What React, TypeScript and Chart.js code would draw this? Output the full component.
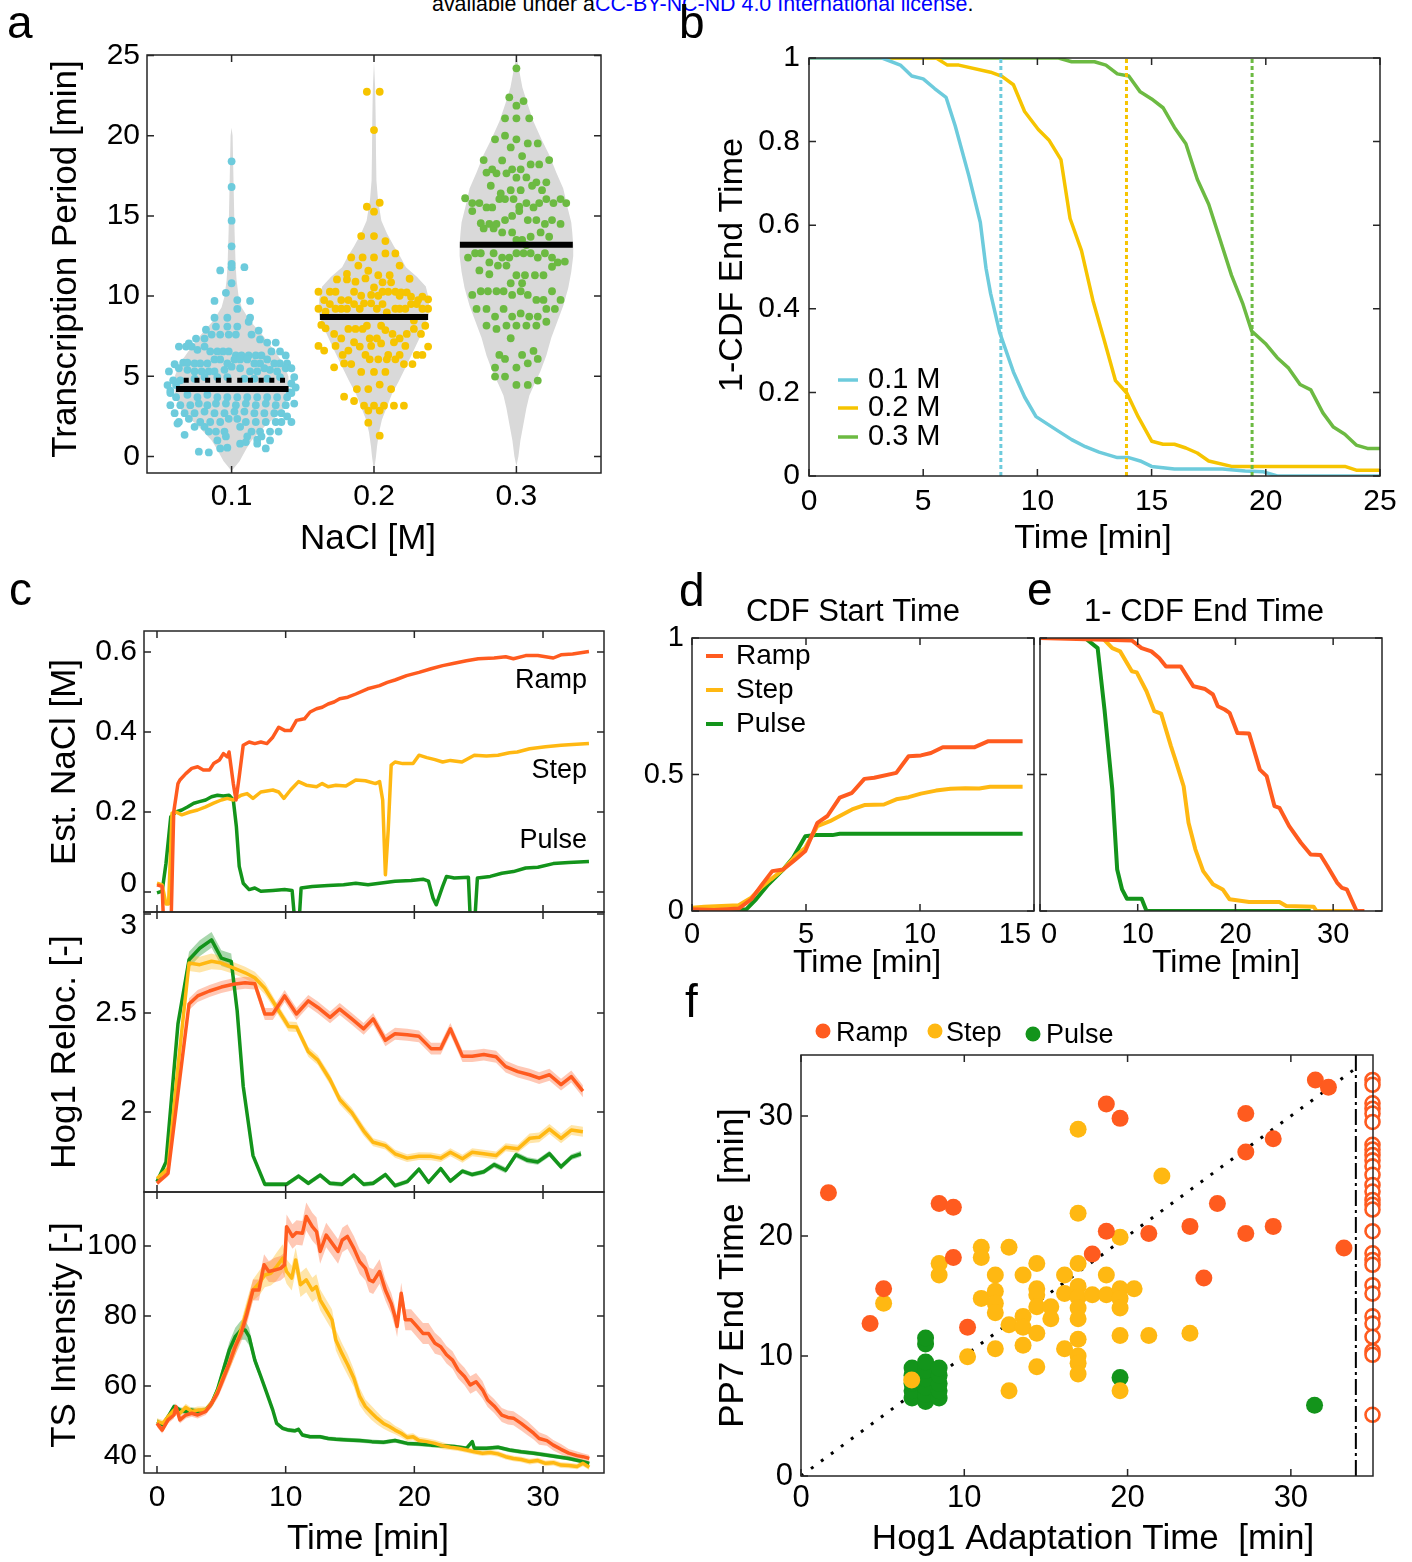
import React, { useEffect, useRef } from 'react';
import { Chart, registerables } from 'chart.js';
Chart.register(...registerables);

const FONT = '"Liberation Sans", Arial, Helvetica, sans-serif';
const fnt = (px: number) => `${px}px ${FONT}`;

const RAMP = '#ff5b1f';
const STEP = '#ffb812';
const PULSE = '#13941b';
const CYAN = '#6dcbdc';
const GOLD = '#f6c400';
const LEAF = '#6cba42';
const VIOLIN = '#d9d9d9';

// ---------------- panel a ----------------
const naclCats = [0.1, 0.2, 0.3];
const naclTickLabels = ['0.1', '0.2', '0.3'];
const periodTicks = [0, 5, 10, 15, 20, 25];
const periodTickLabels = ['0', '5', '10', '15', '20', '25'];
const periodMedians = [4.2, 8.7, 13.2];
const period01Mean = 4.75;
// violin outlines: [period, half width in M]
const violin01 = [[-0.9, 0], [-0.3, 0.0056], [0.5, 0.0105], [1, 0.014], [2, 0.0245], [2.5, 0.0315], [3, 0.0364], [4, 0.0399], [5, 0.0399], [5.8, 0.0364], [6.5, 0.0308], [7.5, 0.0224], [8.5, 0.0126], [9.3, 0.007], [10, 0.0049], [11, 0.0035], [12, 0.0028], [14, 0.0021], [17, 0.0014], [20, 0.0007], [20.5, 0]];
const violin02 = [[-0.9, 0], [0, 0.0014], [0.6, 0.0021], [1.5, 0.0035], [2.3, 0.0056], [3.1, 0.0091], [3.9, 0.0126], [4.7, 0.0175], [5.6, 0.0224], [6.5, 0.0273], [7.3, 0.0315], [8.1, 0.0357], [8.9, 0.0385], [9.8, 0.0385], [10.6, 0.0364], [11.2, 0.0301], [11.8, 0.0224], [12.5, 0.0182], [13.1, 0.014], [13.9, 0.0091], [14.7, 0.0052], [16, 0.0028], [17.2, 0.0017], [19, 0.0014], [21, 0.0012], [23, 0.0008], [24.6, 0]];
const violin03 = [[-0.6, 0], [0, 0.0014], [1, 0.0028], [2, 0.0049], [3, 0.007], [3.8, 0.0091], [4.5, 0.0126], [5.3, 0.0168], [6.3, 0.021], [7.4, 0.0245], [8.4, 0.0287], [9.4, 0.0329], [10.5, 0.0364], [11.5, 0.0385], [12.5, 0.0399], [13.2, 0.0399], [14, 0.0392], [14.6, 0.0385], [15.6, 0.0357], [16.7, 0.0329], [17.7, 0.028], [18.8, 0.0231], [19.8, 0.0175], [20.9, 0.0119], [22, 0.0077], [23, 0.0042], [24, 0.0021], [25, 0]];
// dots: [offset from category (M), period (min)]
const dots01 = [[0, 18.4], [0, 16.8], [0, 14.7], [0, 13.1], [0, 12.0], [0, 11.8], [0.009, 11.8], [-0.008, 11.6], [0, 10.8], [-0.004, 10.2], [-0.012, 9.7], [0.004, 9.75], [0.013, 9.7], [0.004, 9.2], [-0.012, 8.65], [-0.003, 8.65], [0.013, 8.65], [0.012, 8.4], [-0.018, 7.9], [-0.011, 8.1], [-0.003, 8.1], [0.004, 8.1], [0.019, 7.85], [-0.014, 7.6], [-0.008, 7.6], [-0.002, 7.6], [0.003, 7.6], [0.014, 7.6], [-0.025, 7.35], [-0.019, 7.35], [0.02, 7.3],
  [-0.037, 6.85], [-0.032, 6.85], [-0.03, 7.05], [-0.028, 6.85], [-0.024, 6.65], [-0.019, 6.85], [-0.015, 6.55], [-0.01, 6.55], [-0.006, 6.55], [-0.002, 6.55], [0.003, 6.3], [0.007, 6.3], [0.012, 6.3], [0.017, 6.3], [0.021, 6.3], [0.025, 7.1], [0.031, 7.1], [0.028, 6.55], [0.034, 6.55], [0.038, 6.3],
  [-0.04, 5.75], [-0.034, 5.85], [-0.031, 5.85], [-0.026, 5.8], [-0.022, 5.8], [-0.017, 5.8], [-0.012, 6.05], [-0.008, 6.05], [-0.003, 5.8], [0.002, 6.05], [0.006, 6.05], [0.011, 6.05], [0.016, 5.8], [0.02, 5.8], [0.025, 6.05], [0.03, 5.8], [0.034, 5.8], [0.039, 5.8],
  [-0.044, 5.3], [-0.037, 5.5], [-0.031, 5.4], [-0.026, 5.3], [-0.021, 5.3], [-0.016, 5.3], [-0.012, 5.3], [-0.005, 5.4], [0, 5.6], [0.006, 5.5], [0.013, 5.3], [0.018, 5.3], [0.023, 5.5], [0.027, 5.4], [0.032, 5.3], [0.038, 5.5], [0.042, 5.5],
  [-0.041, 4.75], [-0.036, 4.75], [-0.026, 4.85], [-0.019, 4.95], [-0.01, 4.95], [-0.003, 4.95], [0.009, 4.85], [0.016, 4.85], [0.025, 4.85], [0.034, 4.95], [0.044, 4.95],
  [-0.045, 4.45], [-0.039, 4.45], [0.042, 4.55], [0.045, 4.3], [-0.043, 4.1], [0.041, 4.0],
  [-0.043, 3.95], [-0.039, 3.7], [-0.031, 3.85], [-0.024, 3.7], [-0.017, 3.85], [-0.01, 3.7], [-0.003, 3.7], [0.004, 3.7], [0.011, 3.7], [0.018, 3.7], [0.025, 3.7], [0.032, 3.7], [0.039, 3.7], [0.042, 3.95],
  [-0.043, 3.2], [-0.036, 3.2], [-0.029, 3.2], [-0.023, 3.3], [-0.017, 3.2], [-0.011, 3.3], [-0.004, 3.3], [0.003, 3.2], [0.01, 3.3], [0.017, 3.2], [0.024, 3.3], [0.031, 3.2], [0.038, 3.2], [0.044, 3.3],
  [-0.04, 2.7], [-0.033, 2.7], [-0.026, 2.7], [-0.019, 2.8], [-0.012, 2.7], [-0.005, 2.7], [0.002, 2.8], [0.009, 2.8], [0.016, 2.7], [0.023, 2.7], [0.03, 2.7], [0.035, 2.7], [0.039, 2.5],
  [-0.037, 2.15], [-0.03, 2.35], [-0.022, 2.15], [-0.015, 2.15], [-0.008, 2.15], [-0.002, 2.35], [0.004, 2.35], [0.01, 2.15], [0.017, 2.15], [0.024, 2.15], [0.031, 2.15], [0.035, 2.15], [0.042, 2.15],
  [-0.038, 2.05], [-0.026, 1.85], [-0.019, 1.85], [-0.011, 1.55], [-0.005, 1.55], [0.006, 1.85], [0.014, 1.55], [0.02, 1.55], [0.027, 1.55], [0.033, 1.55],
  [-0.033, 1.35], [-0.016, 1.55], [-0.004, 1.25], [0.011, 1.25], [0.018, 1.05], [0.021, 1.25], [0.027, 1.0], [-0.01, 1.0], [0.006, 0.8], [-0.003, 0.55], [-0.023, 0.3], [-0.016, 0.25], [-0.008, 0.5], [0.018, 0.8], [0.024, 0.5], [0.01, 0.9]];
const dots02 = [[-0.005, 22.74], [0.004, 22.74], [0, 20.35], [-0.005, 15.57], [0.004, 15.82], [0, 15.26], [-0.009, 13.74], [0, 13.74], [0.008, 13.43], [-0.016, 12.41], [-0.008, 12.41], [0, 12.41], [0.008, 12.66], [0.015, 12.66], [-0.011, 11.9], [0.018, 11.9], [-0.004, 11.58], [-0.019, 11.38], [-0.026, 11.04], [-0.019, 11.04], [-0.013, 10.9], [-0.006, 11.1], [0.003, 11.3], [0.011, 11.3], [0.006, 10.86], [0.012, 10.86], [0.025, 11.08], [0, 10.54],
  [-0.039, 10.27], [-0.031, 10.27], [-0.027, 10.27], [-0.014, 10.27], [-0.009, 10.02], [-0.002, 10.07], [0.003, 10.02], [0.006, 10.27], [0.01, 10.27], [0.015, 10.27], [0.019, 10.23], [0.023, 10.23], [0.026, 9.96], [0.034, 9.96],
  [-0.035, 9.75], [-0.023, 9.75], [-0.018, 9.75], [-0.007, 9.55], [-0.002, 9.55], [0.006, 9.5], [0.026, 9.5], [0.031, 9.75], [0.038, 9.8], [-0.031, 9.5], [-0.014, 9.5], [0.018, 10.02],
  [-0.039, 9.21], [-0.034, 9.03], [-0.027, 9.21], [-0.023, 9.21], [-0.019, 9.21], [-0.01, 9.21], [0.002, 9.21], [0.009, 8.99], [0.015, 9.21], [0.018, 9.21], [0.022, 9.21], [0.034, 9.21], [0.038, 9.21], [0.03, 9.5],
  [-0.037, 8.2], [-0.034, 7.99], [-0.018, 7.95], [-0.013, 7.95], [-0.008, 7.95], [-0.005, 8.15], [0.005, 8.15], [0.008, 7.88], [0.013, 7.64], [0.018, 7.36], [0.023, 7.64], [0.028, 7.95], [0.036, 8.15], [0.028, 8.47],
  [-0.028, 7.64], [-0.023, 7.36], [-0.003, 7.36], [0.002, 7.36], [0.005, 7.05], [-0.014, 7.12], [-0.01, 6.85], [-0.002, 6.89], [0.014, 7.12], [0.022, 6.89], [0.033, 7.64],
  [-0.039, 6.89], [-0.035, 6.6], [-0.027, 6.89], [-0.018, 6.6], [-0.022, 6.33], [-0.006, 6.33], [-0.003, 6.06], [0.003, 6.06], [0.01, 6.33], [0.009, 6.06], [0.018, 6.33], [0.03, 6.33], [0.034, 6.33], [0.038, 6.85],
  [-0.021, 5.8], [-0.016, 5.76], [0.015, 6.06], [0.021, 5.76], [0.027, 5.76], [-0.028, 5.56],
  [-0.009, 5.27], [0, 5.27], [0.008, 5.27], [0.004, 4.48], [-0.012, 4.2], [-0.004, 4.2], [0.012, 4.2],
  [-0.021, 3.73], [-0.014, 3.46], [-0.007, 3.17], [0, 3.17], [0.007, 3.17], [0.014, 3.17], [0.021, 3.17], [-0.004, 2.86], [0.004, 2.86], [-0.004, 2.11], [0.004, 1.3]];
const dots03 = [[0, 24.2], [-0.005, 22.39], [0.005, 22.16], [0, 21.87], [-0.008, 21.08], [0, 21.08], [0.009, 21.08],
  [-0.015, 19.77], [-0.008, 20.0], [0, 19.77], [-0.004, 19.27], [0.008, 19.52], [0.015, 19.52],
  [-0.023, 18.48], [-0.01, 18.46], [0.004, 18.73], [0.023, 18.48], [0.01, 18.21], [0.016, 18.21],
  [-0.021, 17.7], [-0.017, 17.9], [-0.014, 17.65], [-0.007, 17.65], [-0.003, 17.9], [0.003, 17.9], [0, 17.38], [0.007, 17.4], [0.014, 17.09], [0.011, 16.88], [0.021, 17.09],
  [-0.018, 16.88], [-0.011, 16.4], [-0.004, 16.6], [0.003, 16.6], [0.018, 16.6],
  [-0.036, 16.1], [-0.031, 15.8], [-0.026, 15.8], [-0.012, 16.05], [-0.008, 16.05], [-0.002, 16.05], [0.007, 15.8], [0.016, 15.8], [0.021, 16.05], [0.026, 15.8], [0.031, 16.05], [0.035, 15.8],
  [-0.031, 15.3], [-0.021, 15.53], [-0.017, 15.53], [0.002, 15.57], [0.002, 15.3], [0.012, 15.53], [-0.003, 15.0],
  [-0.025, 14.54], [-0.023, 14.22], [-0.019, 14.5], [-0.016, 14.22], [-0.014, 14.5], [-0.008, 14.74], [0.008, 14.74], [0.014, 14.74], [0.02, 14.5], [0.025, 14.74], [0.031, 14.5],
  [-0.01, 13.97], [-0.003, 13.97], [0.004, 13.5], [0.01, 13.7], [0.017, 13.97], [0.023, 13.7], [0.007, 13.18], [0, 13.5],
  [-0.034, 12.4], [-0.029, 12.67], [-0.025, 12.67], [-0.016, 12.67], [-0.01, 12.4], [-0.005, 12.4], [0, 12.67], [0.005, 12.67], [0.01, 12.67], [0.015, 12.4], [0.02, 12.67], [0.025, 12.4], [0.029, 12.1], [0.034, 12.15], [0.025, 11.83], [-0.019, 12.1], [-0.013, 11.9], [-0.007, 11.9], [-0.026, 11.6], [-0.019, 11.36],
  [0, 11.3], [0.006, 11.3], [0.013, 11.3], [0.019, 11.3], [-0.004, 10.8], [0.004, 10.8],
  [-0.031, 10.07], [-0.025, 10.3], [-0.02, 10.3], [-0.014, 10.3], [-0.009, 10.3], [-0.003, 10.07], [0.003, 10.3], [0.008, 10.07], [0.014, 9.76], [0.019, 9.76], [0.025, 10.3], [0.031, 9.76],
  [-0.028, 9.2], [-0.021, 9.2], [-0.009, 9.2], [0.003, 8.92], [0.009, 8.72], [0.015, 8.72], [0.021, 9.2], [0.027, 9.2], [-0.015, 8.72], [-0.003, 8.72],
  [-0.021, 8.16], [-0.014, 7.95], [-0.007, 8.16], [0, 8.16], [0.007, 8.16], [0.014, 8.16], [0.021, 8.4],
  [-0.004, 7.37], [-0.012, 6.33], [-0.008, 6.08], [0.004, 6.33], [0.012, 6.58], [0.008, 5.81], [0.015, 6.08],
  [-0.015, 5.54], [0, 5.54], [-0.015, 4.98], [-0.008, 4.98], [0.015, 4.73], [0, 4.46], [0.008, 4.46]];

// ---------------- panel b ----------------
const cdfTicksX = [0, 5, 10, 15, 20, 25];
const cdfTickLabelsX = ['0', '5', '10', '15', '20', '25'];
const cdfTicksY = [0, 0.2, 0.4, 0.6, 0.8, 1];
const cdfTickLabelsY = ['0', '0.2', '0.4', '0.6', '0.8', '1'];
const endCdf01 = [[0, 1], [3.2, 1], [4.0, 0.983], [4.5, 0.957], [5.0, 0.95], [5.5, 0.927], [6.0, 0.906], [6.4, 0.838], [7.0, 0.718], [7.5, 0.607], [7.75, 0.497], [7.95, 0.437], [8.35, 0.343], [8.95, 0.249], [9.44, 0.189], [9.94, 0.142], [10.9, 0.108], [11.5, 0.087], [12.1, 0.07], [12.7, 0.057], [13.5, 0.044], [14.0, 0.044], [14.5, 0.036], [15.0, 0.023], [16.0, 0.017], [18.1, 0.017], [19.1, 0.012], [19.9, 0.01], [20.5, 0], [25, 0]];
const endCdf02 = [[0, 1], [5.57, 1], [6.06, 0.983], [6.56, 0.983], [7.95, 0.966], [8.45, 0.956], [8.95, 0.936], [9.44, 0.872], [10.04, 0.829], [10.5, 0.804], [11.03, 0.757], [11.43, 0.616], [11.93, 0.539], [12.43, 0.42], [12.92, 0.326], [13.42, 0.228], [13.92, 0.198], [14.41, 0.142], [15.01, 0.083], [15.5, 0.076], [16.0, 0.076], [16.5, 0.067], [17.0, 0.055], [17.5, 0.036], [18.5, 0.023], [23.46, 0.023], [23.96, 0.014], [25, 0.014]];
const endCdf03 = [[0, 1], [10.93, 1], [11.5, 0.991], [12.5, 0.991], [13.0, 0.983], [13.5, 0.962], [14.0, 0.957], [14.5, 0.919], [15.0, 0.902], [15.5, 0.881], [16.0, 0.834], [16.5, 0.795], [17.0, 0.71], [17.5, 0.65], [18.0, 0.565], [18.5, 0.48], [19.0, 0.411], [19.38, 0.347], [19.98, 0.317], [20.5, 0.283], [21.0, 0.258], [21.5, 0.219], [21.97, 0.206], [22.5, 0.151], [22.96, 0.117], [23.46, 0.1], [23.96, 0.074], [24.45, 0.066], [25, 0.066]];
const endMedians = [8.4, 13.9, 19.4];
const concLabels = ['0.1 M', '0.2 M', '0.3 M'];

// ---------------- panel c ----------------
const timeTicksC = [0, 10, 20, 30];
const timeTickLabelsC = ['0', '10', '20', '30'];
const naclTicksY = [0, 0.2, 0.4, 0.6];
const naclTickLabelsY = ['0', '0.2', '0.4', '0.6'];
const hogTicksY = [2, 2.5, 3];
const hogTickLabelsY = ['2', '2.5', '3'];
const tsTicksY = [40, 60, 80, 100];
const tsTickLabelsY = ['40', '60', '80', '100'];
const naclRamp = [[0, 0.018], [0.4, 0.014], [0.5, -0.07], [1.1, -0.07], [1.3, 0.2], [1.63, 0.271], [1.78, 0.28], [2.24, 0.296], [2.7, 0.309], [3.16, 0.313], [3.6, 0.305], [4.08, 0.305], [4.4, 0.321], [4.85, 0.33], [5.16, 0.346], [5.47, 0.338], [5.6, 0.35], [5.93, 0.271], [6.14, 0.23], [6.39, 0.288], [6.7, 0.367], [7.16, 0.375], [7.6, 0.371], [8.07, 0.375], [8.54, 0.371], [9.0, 0.387], [9.46, 0.412], [9.92, 0.404], [10.4, 0.404], [10.84, 0.429], [11.46, 0.433], [11.9, 0.45], [12.4, 0.458], [12.84, 0.462], [13.3, 0.47], [13.76, 0.475], [14.2, 0.483], [14.83, 0.487], [15.45, 0.495], [16.37, 0.508], [17.3, 0.516], [17.9, 0.524], [18.5, 0.53], [19.4, 0.541], [20.36, 0.549], [21.3, 0.558], [22.2, 0.566], [23.1, 0.572], [24.05, 0.578], [24.97, 0.583], [26.2, 0.585], [27.1, 0.588], [27.7, 0.583], [28.65, 0.591], [29.6, 0.591], [30.8, 0.585], [31.4, 0.593], [32.3, 0.595], [33.57, 0.601]];
const naclStep = [[0, 0.022], [0.4, 0.018], [0.7, -0.03], [0.9, -0.03], [1.17, 0.197], [1.47, 0.2], [1.93, 0.193], [2.55, 0.2], [3.16, 0.205], [3.78, 0.213], [4.4, 0.222], [5.0, 0.23], [5.47, 0.234], [5.93, 0.23], [6.54, 0.242], [7.0, 0.246], [7.46, 0.234], [8.07, 0.25], [9.0, 0.255], [9.46, 0.25], [9.86, 0.234], [10.38, 0.255], [11.0, 0.276], [11.6, 0.267], [12.4, 0.263], [12.84, 0.271], [13.3, 0.263], [13.9, 0.267], [14.68, 0.265], [15.45, 0.28], [16.2, 0.278], [16.98, 0.271], [17.3, 0.276], [17.54, 0.23], [17.75, 0.043], [17.97, 0.155], [18.2, 0.317], [18.5, 0.325], [19.1, 0.321], [19.9, 0.321], [20.36, 0.342], [20.97, 0.336], [21.6, 0.331], [22.2, 0.325], [22.8, 0.329], [23.7, 0.325], [24.66, 0.342], [25.6, 0.34], [26.5, 0.342], [27.4, 0.348], [28.0, 0.35], [28.96, 0.358], [30.2, 0.363], [31.4, 0.367], [32.3, 0.369], [33.57, 0.371]];
const naclPulse = [[0, -0.002], [0.4, 0.002], [0.7, 0.072], [1.07, 0.188], [1.47, 0.2], [1.93, 0.205], [2.4, 0.213], [2.86, 0.222], [3.3, 0.226], [3.78, 0.23], [4.24, 0.238], [4.7, 0.242], [5.16, 0.24], [5.6, 0.242], [5.93, 0.23], [6.17, 0.163], [6.39, 0.064], [6.7, 0.022], [7.16, 0.006], [7.6, 0.01], [8.07, 0.002], [9.0, 0.004], [9.92, 0.006], [10.5, 0.004], [10.7, -0.07], [11.05, -0.07], [11.2, 0.01], [12.07, 0.014], [13.3, 0.016], [14.5, 0.018], [15.45, 0.022], [16.4, 0.018], [17.3, 0.022], [18.5, 0.027], [19.75, 0.029], [20.67, 0.032], [21.1, 0.027], [21.45, -0.015], [21.7, -0.032], [22.2, 0.014], [22.5, 0.039], [23.1, 0.035], [24.2, 0.037], [24.35, -0.07], [24.7, -0.07], [24.9, 0.035], [25.9, 0.039], [26.8, 0.047], [27.7, 0.051], [28.65, 0.06], [29.6, 0.062], [30.8, 0.071], [32.0, 0.074], [33.57, 0.076]];
// [time, mean, sem]
const hogRamp = [[0, 1.64, 0.012], [0.86, 1.69, 0.015], [2.49, 2.545, 0.03], [3.16, 2.586, 0.03], [4.08, 2.611, 0.03], [5.0, 2.631, 0.03], [5.93, 2.645, 0.03], [6.85, 2.653, 0.03], [7.6, 2.648, 0.03], [8.38, 2.495, 0.03], [9.0, 2.495, 0.03], [9.92, 2.586, 0.03], [10.84, 2.495, 0.03], [11.76, 2.561, 0.03], [12.5, 2.528, 0.03], [13.45, 2.478, 0.03], [14.2, 2.52, 0.03], [15.14, 2.47, 0.03], [16.06, 2.42, 0.03], [16.8, 2.47, 0.03], [17.75, 2.362, 0.03], [18.5, 2.395, 0.03], [19.44, 2.39, 0.03], [20.36, 2.382, 0.03], [21.3, 2.32, 0.03], [22.05, 2.32, 0.03], [22.8, 2.42, 0.03], [23.74, 2.282, 0.03], [24.5, 2.282, 0.03], [25.4, 2.29, 0.03], [26.35, 2.279, 0.03], [27.1, 2.229, 0.03], [28.04, 2.204, 0.03], [28.96, 2.188, 0.03], [29.7, 2.171, 0.03], [30.5, 2.188, 0.03], [31.4, 2.138, 0.03], [32.2, 2.179, 0.03], [33.1, 2.105, 0.03]];
const hogStep = [[0, 1.664, 0.012], [0.86, 1.714, 0.015], [1.63, 2.229, 0.03], [2.49, 2.752, 0.04], [3.32, 2.744, 0.04], [4.24, 2.761, 0.04], [5.0, 2.752, 0.035], [5.93, 2.728, 0.03], [6.85, 2.703, 0.03], [7.6, 2.678, 0.03], [8.38, 2.625, 0.03], [9.3, 2.528, 0.025], [10.23, 2.432, 0.025], [10.84, 2.429, 0.025], [11.76, 2.304, 0.025], [12.5, 2.262, 0.025], [13.45, 2.163, 0.025], [14.2, 2.063, 0.025], [15.14, 1.997, 0.025], [16.06, 1.905, 0.025], [16.8, 1.847, 0.02], [17.75, 1.83, 0.02], [18.5, 1.789, 0.02], [19.44, 1.767, 0.02], [20.36, 1.777, 0.02], [21.3, 1.776, 0.02], [22.05, 1.767, 0.02], [22.8, 1.797, 0.02], [23.74, 1.764, 0.02], [24.5, 1.797, 0.02], [25.4, 1.789, 0.02], [26.35, 1.78, 0.02], [27.1, 1.822, 0.02], [28.04, 1.814, 0.02], [28.96, 1.867, 0.025], [29.7, 1.872, 0.025], [30.5, 1.914, 0.025], [31.4, 1.867, 0.025], [32.2, 1.909, 0.025], [33.1, 1.9, 0.025]];
const hogPulse = [[0, 1.648, 0.01], [0.7, 1.748, 0.015], [1.63, 2.445, 0.03], [2.49, 2.769, 0.04], [3.32, 2.827, 0.04], [4.24, 2.869, 0.04], [5.0, 2.777, 0.04], [5.77, 2.761, 0.04], [6.23, 2.512, 0.03], [6.7, 2.13, 0.02], [7.46, 1.78, 0.015], [8.38, 1.635, 0.012], [9.3, 1.635, 0.012], [10.07, 1.635, 0.012], [11.0, 1.676, 0.012], [11.76, 1.64, 0.012], [12.68, 1.681, 0.012], [13.45, 1.64, 0.012], [14.37, 1.635, 0.012], [15.3, 1.681, 0.012], [16.06, 1.635, 0.012], [16.8, 1.64, 0.012], [17.75, 1.684, 0.012], [18.5, 1.628, 0.012], [19.44, 1.648, 0.012], [20.36, 1.711, 0.012], [21.1, 1.645, 0.012], [22.05, 1.714, 0.012], [22.8, 1.651, 0.012], [23.74, 1.701, 0.012], [24.5, 1.684, 0.012], [25.4, 1.698, 0.012], [26.2, 1.734, 0.015], [27.1, 1.706, 0.015], [27.9, 1.784, 0.015], [28.8, 1.756, 0.015], [29.6, 1.748, 0.015], [30.5, 1.789, 0.015], [31.4, 1.723, 0.015], [32.2, 1.772, 0.015], [32.95, 1.789, 0.015]];
const tsRamp = [[0, 49.3, 1], [0.4, 47.4, 1], [0.86, 50.3, 1], [1.32, 51.7, 1], [1.47, 54.1, 1], [1.78, 50.3, 1], [2.24, 51.7, 1], [2.7, 52.2, 1], [3.16, 51.7, 1], [3.78, 52.7, 1], [4.24, 55, 1.2], [4.7, 57.9, 1.5], [5.16, 62.2, 2], [5.62, 66.5, 2], [6.08, 71.2, 2.5], [6.54, 75, 2.5], [7.0, 80.8, 3], [7.46, 87.4, 3], [7.92, 87.4, 3], [8.32, 94.6, 3], [8.69, 92.7, 3], [9.15, 93.1, 3.5], [9.6, 93.6, 3.5], [9.92, 94.6, 3.5], [10.07, 105.5, 3.5], [10.53, 102.7, 3.5], [10.84, 103.8, 3.5], [11.3, 103.6, 3.5], [11.6, 108.4, 4], [12.07, 105.5, 4], [12.4, 104.1, 4], [12.68, 98.4, 3.5], [13.15, 103.1, 3.5], [13.6, 100.8, 3.5], [14.07, 98.4, 3.5], [14.4, 101.7, 3.5], [14.8, 102.7, 3.5], [15.3, 99.3, 3.5], [15.75, 95.5, 3.5], [16.2, 93.6, 3.5], [16.5, 90.3, 3.5], [16.8, 89.8, 3.5], [17.3, 92.7, 3.5], [17.75, 87.4, 3], [18.2, 83.6, 3], [18.5, 79.8, 3], [18.66, 77, 3], [18.98, 86.5, 3], [19.3, 78.9, 3], [19.75, 78.9, 3], [20.2, 77, 3], [20.67, 75, 3], [21.1, 75, 3], [21.6, 72.2, 3], [22.05, 71.2, 2.5], [22.5, 68.9, 2.5], [22.97, 67.4, 2.5], [23.4, 64.6, 2.5], [23.9, 62.7, 2.5], [24.35, 60.3, 2.5], [24.8, 61.2, 2.5], [25.3, 58.9, 2.5], [25.7, 56, 2], [26.2, 54.3, 2], [26.8, 51.7, 2], [27.27, 51, 2], [27.7, 50.8, 2], [28.3, 49.3, 2], [28.8, 47.9, 2], [29.27, 46.5, 1.8], [29.7, 45, 1.8], [30.3, 44.4, 1.5], [30.8, 43.1, 1.5], [31.4, 41.9, 1.5], [32.0, 40.8, 1.2], [32.65, 40.1, 1.2], [33.1, 39.8, 1], [33.6, 39.3, 1]];
const tsStep = [[0, 49.8, 1], [0.46, 49.3, 1], [0.86, 51.2, 1], [1.32, 53.1, 1], [1.78, 52.2, 1], [2.24, 53.9, 1], [2.7, 52.7, 1], [3.16, 53.1, 1], [3.78, 53.1, 1], [4.24, 55, 1.2], [4.7, 58.4, 1.5], [5.16, 62.7, 2], [5.62, 66.5, 2], [6.08, 71.2, 2.5], [6.54, 76, 2.5], [7.0, 81.7, 3], [7.46, 87.4, 3], [7.92, 89.3, 3.5], [8.38, 91.7, 3.5], [8.85, 92.2, 3.5], [9.3, 94.1, 4], [9.77, 96.5, 4], [10.07, 92.7, 3.5], [10.47, 90.8, 3.5], [10.78, 96, 3.5], [11.15, 88.9, 3.5], [11.6, 90.3, 3.5], [12.07, 87.4, 3.5], [12.38, 88.4, 3.5], [12.68, 84.6, 3], [13.15, 81.7, 3], [13.6, 78.9, 3], [13.9, 73.1, 3], [14.37, 69.3, 3], [14.83, 66, 3], [15.3, 62.2, 2.5], [15.75, 57, 2.5], [16.2, 54.1, 2], [16.7, 52.2, 2], [17.1, 50.8, 1.8], [17.6, 49.3, 1.5], [18.06, 48.4, 1.5], [18.5, 47.4, 1.2], [18.98, 46.5, 1.2], [19.44, 45.3, 1], [19.9, 45.5, 1], [20.36, 44.4, 1], [20.97, 44.1, 1], [21.6, 43.6, 1], [22.2, 42.9, 1], [22.8, 42.5, 0.8], [23.4, 42.2, 0.8], [24.05, 41.7, 0.8], [24.66, 41.2, 0.8], [25.3, 40.8, 0.8], [25.9, 41, 0.8], [26.5, 40.6, 0.8], [27.1, 39.8, 0.8], [27.7, 39.3, 0.8], [28.3, 39, 0.8], [28.96, 38.4, 0.8], [29.6, 38.7, 0.8], [30.2, 37.9, 0.8], [30.8, 38.1, 0.8], [31.4, 37.4, 0.8], [32, 37.3, 0.8], [32.65, 37, 0.8], [33.1, 37.9, 0.8], [33.6, 36.8, 0.8]];
const tsPulse = [[0, 49.8, 0.8], [0.46, 48.9, 0.8], [0.86, 51.2, 0.8], [1.32, 54.1, 0.8], [1.78, 53.1, 0.8], [2.24, 52.7, 0.8], [2.7, 53.1, 0.8], [3.16, 52.7, 0.8], [3.78, 53.1, 0.8], [4.24, 55, 1], [4.7, 58.9, 1.2], [5.16, 64.6, 1.8], [5.62, 70.3, 2.2], [6.08, 74.1, 2.5], [6.54, 76, 2.8], [6.85, 76, 2.8], [7.16, 74.1, 2.5], [7.6, 67.4, 1.5], [8.07, 62.7, 1], [8.54, 57.9, 0.8], [9.0, 53.1, 0.8], [9.3, 49.3, 0.6], [9.77, 47.9, 0.6], [10.23, 47.4, 0.6], [10.7, 47.2, 0.6], [11.0, 47.6, 0.6], [11.3, 46, 0.6], [11.9, 45.5, 0.6], [12.68, 45.5, 0.6], [13.3, 45, 0.6], [13.9, 44.8, 0.6], [14.83, 44.6, 0.6], [15.75, 44.4, 0.6], [16.7, 44.1, 0.6], [17.6, 43.9, 0.6], [18.5, 44.4, 0.6], [19.44, 43.6, 0.6], [20.36, 43.4, 0.6], [21.3, 43.1, 0.6], [22.2, 42.9, 0.6], [23.1, 42.7, 0.6], [24.05, 42.2, 0.6], [24.5, 44.1, 0.6], [24.66, 42.2, 0.6], [25.6, 42.2, 0.6], [26.5, 42.5, 0.6], [27.4, 41.7, 0.6], [28.3, 41.2, 0.6], [29.27, 40.8, 0.6], [30.2, 40.3, 0.6], [31.1, 39.8, 0.6], [32.0, 39.3, 0.6], [33.1, 38.4, 0.6], [33.6, 37.9, 0.6]];
const regimeLabels = ['Ramp', 'Step', 'Pulse'];

// ---------------- panels d, e ----------------
const dTicksX = [0, 5, 10, 15];
const dTickLabelsX = ['0', '5', '10', '15'];
const eTicksX = [0, 10, 20, 30];
const eTickLabelsX = ['0', '10', '20', '30'];
const deTicksY = [0, 0.5, 1];
const deTickLabelsY = ['0', '0.5', '1'];
const startCdfRamp = [[0, 0.006], [0.97, 0.004], [2.05, 0.009], [2.6, 0.043], [3.02, 0.091], [3.52, 0.146], [4.0, 0.152], [4.54, 0.189], [4.97, 0.22], [5.5, 0.323], [5.94, 0.348], [6.48, 0.415], [7.02, 0.433], [7.56, 0.484], [7.99, 0.488], [8.96, 0.506], [9.5, 0.567], [10.04, 0.57], [10.48, 0.579], [11.0, 0.6], [12.4, 0.6], [13.0, 0.622], [14.5, 0.622]];
const startCdfStep = [[0, 0.012], [0.54, 0.016], [2.05, 0.021], [2.6, 0.049], [3.02, 0.085], [3.46, 0.116], [4.0, 0.152], [4.54, 0.201], [4.97, 0.232], [5.5, 0.311], [6.05, 0.329], [6.48, 0.348], [7.02, 0.372], [7.56, 0.388], [8.42, 0.39], [8.96, 0.409], [9.5, 0.417], [10.04, 0.43], [10.7, 0.441], [11.34, 0.448], [11.99, 0.45], [12.6, 0.449], [13.07, 0.455], [14.5, 0.455]];
const startCdfPulse = [[0, 0], [1.62, 0], [2.38, 0.006], [2.81, 0.043], [3.35, 0.098], [4.0, 0.152], [4.43, 0.195], [4.97, 0.274], [5.4, 0.278], [6.16, 0.278], [6.48, 0.283], [14.5, 0.283]];
const endCdfRamp = [[0, 1], [9.4, 0.991], [10.4, 0.963], [11.4, 0.951], [12.2, 0.927], [12.9, 0.896], [14.4, 0.896], [15.7, 0.823], [16.9, 0.813], [17.7, 0.793], [18.2, 0.75], [18.9, 0.738], [19.4, 0.726], [20.2, 0.652], [21.4, 0.65], [22.5, 0.518], [23.2, 0.494], [24.0, 0.384], [24.5, 0.378], [25.5, 0.311], [26.7, 0.25], [27.7, 0.207], [28.7, 0.205], [29.4, 0.165], [30.4, 0.104], [30.9, 0.085], [31.4, 0.079], [32.4, 0], [33.2, 0]];
const endCdfStep = [[0, 1], [6.4, 1], [7.4, 0.963], [8.2, 0.951], [9.4, 0.878], [9.9, 0.874], [10.9, 0.805], [11.7, 0.732], [12.4, 0.723], [13.4, 0.604], [13.9, 0.549], [14.7, 0.457], [15.2, 0.323], [15.9, 0.226], [16.7, 0.146], [17.7, 0.098], [18.7, 0.079], [19.4, 0.043], [21.4, 0.033], [24.5, 0.033], [25.2, 0.018], [28.0, 0.016], [28.3, 0], [32, 0]];
const endCdfPulse = [[0, 1], [4.6, 1], [5.9, 0.963], [6.6, 0.738], [7.4, 0.445], [7.9, 0.152], [8.4, 0.079], [8.9, 0.045], [10.4, 0.045], [10.9, 0], [27.7, 0]];

// ---------------- panel f ----------------
const fTicks = [0, 10, 20, 30];
const fTickLabels = ['0', '10', '20', '30'];
const adaptRamp = [[1.68, 23.6], [8.46, 22.7], [9.33, 22.4], [9.33, 18.2], [5.06, 15.6], [4.23, 12.7], [10.2, 12.4], [18.7, 31.0], [19.54, 29.8], [18.7, 20.4], [17.84, 18.5], [21.3, 20.2], [23.82, 20.8], [25.5, 22.7], [24.67, 16.5], [27.24, 30.2], [28.92, 28.1], [27.24, 27.0], [27.24, 20.2], [28.92, 20.8], [31.5, 33.0], [32.3, 32.4], [33.25, 19.0]];
const adaptStep = [[16.97, 28.9], [16.97, 21.9], [22.1, 25.0], [19.54, 19.9], [11.04, 19.06], [11.04, 18.2], [12.74, 19.06], [8.46, 17.7], [8.46, 16.75], [5.06, 14.4], [11.9, 16.75], [13.6, 16.75], [14.44, 17.7], [16.14, 16.75], [16.97, 17.7], [18.7, 16.75], [11.04, 14.8], [11.9, 15.4], [11.9, 14.4], [11.9, 13.6], [14.44, 15.6], [14.44, 15.1], [14.44, 14.1], [15.3, 14.1], [15.3, 13.1], [16.14, 15.2], [16.97, 15.8], [16.97, 14.9], [16.97, 14.0], [16.97, 13.1], [17.84, 15.1], [18.7, 15.1], [19.54, 15.6], [19.54, 14.8], [19.54, 14.0], [20.4, 15.6], [12.74, 12.6], [13.6, 13.3], [13.6, 12.4], [13.6, 10.9], [14.44, 11.9], [11.9, 10.6], [10.2, 9.94], [16.97, 11.4], [16.97, 10.0], [16.97, 9.4], [16.97, 8.5], [16.14, 10.6], [14.44, 9.1], [19.54, 11.7], [21.3, 11.7], [23.82, 11.9], [12.74, 7.1], [19.54, 7.1], [6.78, 8.0]];
const adaptPulse = [[6.8, 6.5], [6.8, 7.1], [6.8, 7.7], [6.8, 8.4], [6.8, 9.0], [7.63, 6.2], [7.63, 6.8], [7.63, 7.4], [7.63, 8.1], [7.63, 8.8], [7.63, 9.5], [8.46, 6.5], [8.46, 7.1], [8.46, 7.7], [8.46, 8.4], [8.46, 9.0], [7.63, 11.0], [7.63, 11.5], [19.54, 8.2], [31.45, 5.9]];
const censoredX = 35.0;
const censoredRampY = [33.0, 32.6, 31.06, 30.6, 30.2, 29.5, 27.6, 27.2, 26.75, 26.3, 25.8, 25.1, 24.25, 23.7, 23.0, 22.6, 22.2, 20.4, 18.56, 18.0, 17.6, 15.9, 15.2, 13.3, 12.7, 11.6, 10.4, 10.1, 5.1];
const cutoffX = 33.98;
const diagonal = [[0, 0], [33.8, 33.8]];

// ---------------- helpers ----------------
type Txt = { t: string; x: number; y: number; font: string; align?: CanvasTextAlign; rot?: number; color?: string };
type Deco = {
  xTicks: number[]; yTicks: number[];
  xLabels?: { v: number; t: string; dx?: number }[]; xLabelY?: number;
  yLabels?: { v: number; t: string; dy?: number }[]; yLabelX?: number;
  tickFont?: string; top?: boolean; right?: boolean;
  texts?: Txt[];
  keys?: { x1: number; x2: number; y: number; color: string; w: number }[];
  dots?: { x: number; y: number; r: number; color: string }[];
};

const xy = (rows: number[][], off = 0) => rows.map((r) => ({ x: r[0] + off, y: r[1] }));
const labelsOf = (vals: number[], txt: string[]) => vals.map((v, i) => ({ v, t: txt[i], dx: 0, dy: 0 }));

function makeDeco(ox: number, oy: number, d: Deco) {
  return {
    id: 'deco',
    beforeDatasetsDraw(chart: any) {
      const { ctx, chartArea: a } = chart;
      chart.data.datasets.forEach((ds: any, i: number) => {
        if (!ds.violin) return;
        const pts = chart.getDatasetMeta(i).data;
        ctx.save();
        ctx.beginPath();
        ctx.rect(a.left, a.top, a.right - a.left, a.bottom - a.top);
        ctx.clip();
        ctx.beginPath();
        pts.forEach((p: any, k: number) => (k ? ctx.lineTo(p.x, p.y) : ctx.moveTo(p.x, p.y)));
        ctx.closePath();
        ctx.fillStyle = ds.violin;
        ctx.fill();
        ctx.restore();
      });
    },
    afterDraw(chart: any) {
      const { ctx, chartArea: a, scales } = chart;
      const sx = scales.x;
      const sy = scales.y;
      const L = 7;
      ctx.save();
      ctx.strokeStyle = '#262626';
      ctx.lineWidth = 1.5;
      ctx.beginPath();
      for (const v of d.xTicks) {
        const p = sx.getPixelForValue(v);
        ctx.moveTo(p, a.bottom); ctx.lineTo(p, a.bottom - L);
        if (d.top !== false) { ctx.moveTo(p, a.top); ctx.lineTo(p, a.top + L); }
      }
      for (const v of d.yTicks) {
        const p = sy.getPixelForValue(v);
        ctx.moveTo(a.left, p); ctx.lineTo(a.left + L, p);
        if (d.right !== false) { ctx.moveTo(a.right, p); ctx.lineTo(a.right - L, p); }
      }
      ctx.stroke();
      ctx.strokeRect(a.left, a.top, a.right - a.left, a.bottom - a.top);
      ctx.fillStyle = '#000';
      ctx.textBaseline = 'middle';
      ctx.font = d.tickFont || fnt(30);
      if (d.xLabels) {
        ctx.textAlign = 'center';
        for (const l of d.xLabels) ctx.fillText(l.t, sx.getPixelForValue(l.v) + (l.dx || 0), (d.xLabelY as number) - oy);
      }
      if (d.yLabels) {
        ctx.textAlign = 'right';
        for (const l of d.yLabels) ctx.fillText(l.t, (d.yLabelX as number) - ox, sy.getPixelForValue(l.v) + (l.dy || 0));
      }
      for (const k of d.keys || []) {
        ctx.strokeStyle = k.color; ctx.lineWidth = k.w;
        ctx.beginPath(); ctx.moveTo(k.x1 - ox, k.y - oy); ctx.lineTo(k.x2 - ox, k.y - oy); ctx.stroke();
      }
      for (const o of d.dots || []) {
        ctx.fillStyle = o.color;
        ctx.beginPath(); ctx.arc(o.x - ox, o.y - oy, o.r, 0, Math.PI * 2); ctx.fill();
      }
      for (const t of d.texts || []) {
        ctx.save();
        ctx.translate(t.x - ox, t.y - oy);
        if (t.rot) ctx.rotate(t.rot);
        ctx.font = t.font;
        ctx.textAlign = t.align || 'center';
        ctx.textBaseline = 'middle';
        ctx.fillStyle = t.color || '#000';
        ctx.fillText(t.t, 0, 0);
        ctx.restore();
      }
      ctx.restore();
    },
  };
}

type Spec = { ox: number; oy: number; w: number; h: number; box: number[]; x: number[]; y: number[]; datasets: any[]; deco: Deco };

function build(s: Spec) {
  const [l, t, r, b] = s.box;
  return {
    type: 'line',
    data: { datasets: s.datasets },
    options: {
      responsive: false,
      maintainAspectRatio: false,
      animation: false,
      devicePixelRatio: 1,
      events: [],
      layout: { padding: { left: l - s.ox, top: t - s.oy, right: s.ox + s.w - r, bottom: s.oy + s.h - b } },
      scales: {
        x: { type: 'linear', display: false, min: s.x[0], max: s.x[1] },
        y: { type: 'linear', display: false, min: s.y[0], max: s.y[1] },
      },
      plugins: { legend: { display: false }, tooltip: { enabled: false } },
      elements: { point: { radius: 0, hoverRadius: 0 }, line: { tension: 0, borderJoinStyle: 'round', borderCapStyle: 'butt' } },
    },
    plugins: [makeDeco(s.ox, s.oy, s.deco)],
  };
}

const lineDs = (data: any[], color: string, width: number, order: number, extra: any = {}) => ({
  data, borderColor: color, backgroundColor: color, borderWidth: width, pointRadius: 0, fill: false, order, ...extra,
});
const bandDs = (rows: number[][], color: string, order: number) => [
  { data: rows.map((r) => ({ x: r[0], y: r[1] + r[2] })), borderWidth: 0, borderColor: 'rgba(0,0,0,0)', pointRadius: 0, fill: false, order },
  { data: rows.map((r) => ({ x: r[0], y: r[1] - r[2] })), borderWidth: 0, borderColor: 'rgba(0,0,0,0)', backgroundColor: color, pointRadius: 0, fill: '-1', order },
];
const violinDs = (center: number, prof: number[][]) => {
  const right = prof.map((p) => ({ x: center + p[1], y: p[0] }));
  const left = prof.map((p) => ({ x: center - p[1], y: p[0] })).reverse();
  return { data: right.concat(left), violin: VIOLIN, showLine: false, pointRadius: 0, order: 9 };
};
const dotsDs = (rows: number[][], off: number, color: string, r: number, order: number, extra: any = {}) => ({
  data: xy(rows, off), showLine: false, pointRadius: r, pointBackgroundColor: color, pointBorderWidth: 0, borderColor: color, order, ...extra,
});
const hSeg = (x0: number, x1: number, y: number) => [{ x: x0, y }, { x: x1, y }];
const vSeg = (x: number, y0: number, y1: number) => [{ x, y: y0 }, { x, y: y1 }];
const ROT = -Math.PI / 2;

// ---------------- specs ----------------
const specA: Spec = {
  ox: 0, oy: 0, w: 650, h: 565, box: [147, 55, 601, 473], x: [0.0406, 0.3594], y: [-1.03, 25.03],
  datasets: [
    violinDs(naclCats[0], violin01), violinDs(naclCats[1], violin02), violinDs(naclCats[2], violin03),
    dotsDs(dots01, naclCats[0], CYAN, 3.9, 2), dotsDs(dots02, naclCats[1], GOLD, 3.9, 2), dotsDs(dots03, naclCats[2], LEAF, 3.9, 2),
    lineDs(hSeg(naclCats[0] - 0.039, naclCats[0] + 0.04, periodMedians[0]), '#000', 6, 0),
    lineDs(hSeg(naclCats[1] - 0.038, naclCats[1] + 0.038, periodMedians[1]), '#000', 6, 0),
    lineDs(hSeg(naclCats[2] - 0.0397, naclCats[2] + 0.0396, periodMedians[2]), '#000', 6, 0),
    lineDs(hSeg(naclCats[0] - 0.0336, naclCats[0] + 0.038, period01Mean), '#000', 5, 0, { borderDash: [5, 5.7] }),
  ],
  deco: {
    xTicks: naclCats, yTicks: periodTicks,
    xLabels: labelsOf(naclCats, naclTickLabels), xLabelY: 497,
    yLabels: labelsOf(periodTicks, periodTickLabels), yLabelX: 140,
    tickFont: fnt(30),
    texts: [
      { t: 'Transcription Period [min]', x: 66, y: 259, font: fnt(35), rot: ROT },
      { t: 'NaCl [M]', x: 368, y: 539, font: fnt(35) },
    ],
  },
};

const specB: Spec = {
  ox: 650, oy: 0, w: 762, h: 565, box: [809, 58, 1380, 476], x: [0, 25], y: [0, 1],
  datasets: [
    lineDs(xy(endCdf01), CYAN, 3.5, 1), lineDs(xy(endCdf02), GOLD, 3.5, 1), lineDs(xy(endCdf03), LEAF, 3.5, 1),
    lineDs(vSeg(endMedians[0], 0, 1), CYAN, 3, 0, { borderDash: [4, 3] }),
    lineDs(vSeg(endMedians[1], 0, 1), GOLD, 3, 0, { borderDash: [4, 3] }),
    lineDs(vSeg(endMedians[2], 0, 1), LEAF, 3, 0, { borderDash: [4, 3] }),
  ],
  deco: {
    xTicks: cdfTicksX, yTicks: cdfTicksY,
    xLabels: labelsOf(cdfTicksX, cdfTickLabelsX), xLabelY: 502,
    yLabels: labelsOf(cdfTicksY, cdfTickLabelsY), yLabelX: 800,
    tickFont: fnt(30),
    keys: [
      { x1: 838, x2: 858, y: 380, color: CYAN, w: 3.5 },
      { x1: 838, x2: 858, y: 408, color: GOLD, w: 3.5 },
      { x1: 838, x2: 858, y: 437, color: LEAF, w: 3.5 },
    ],
    texts: [
      { t: concLabels[0], x: 868, y: 380, font: fnt(29), align: 'left' },
      { t: concLabels[1], x: 868, y: 408, font: fnt(29), align: 'left' },
      { t: concLabels[2], x: 868, y: 437, font: fnt(29), align: 'left' },
      { t: '1-CDF End Time', x: 733, y: 265, font: fnt(34), rot: ROT },
      { t: 'Time [min]', x: 1093, y: 539, font: fnt(34) },
    ],
  },
};

const cX = [-1.01, 34.74];
const specC1: Spec = {
  ox: 0, oy: 560, w: 650, h: 356, box: [144, 631, 604, 912], x: cX, y: [-0.05, 0.6525],
  datasets: [
    lineDs(xy(naclRamp), RAMP, 3.5, 0), lineDs(xy(naclStep), STEP, 3.5, 1), lineDs(xy(naclPulse), PULSE, 3.5, 2),
  ],
  deco: {
    xTicks: timeTicksC, yTicks: naclTicksY,
    yLabels: labelsOf(naclTicksY, naclTickLabelsY).map((l, i) => ({ ...l, dy: i === 0 ? -8 : 0 })), yLabelX: 137,
    tickFont: fnt(30),
    texts: [
      { t: 'Est. NaCl [M]', x: 65, y: 762, font: fnt(35), rot: ROT },
      { t: regimeLabels[0], x: 587, y: 681, font: fnt(27), align: 'right' },
      { t: regimeLabels[1], x: 587, y: 771, font: fnt(27), align: 'right' },
      { t: regimeLabels[2], x: 587, y: 841, font: fnt(27), align: 'right' },
    ],
  },
};

const specC2: Spec = {
  ox: 0, oy: 905, w: 650, h: 292, box: [144, 912, 604, 1192], x: cX, y: [1.596, 3.01],
  datasets: [
    ...bandDs(hogRamp, 'rgba(255,110,60,0.38)', 10), ...bandDs(hogStep, 'rgba(255,190,40,0.4)', 10), ...bandDs(hogPulse, 'rgba(30,150,40,0.38)', 10),
    lineDs(xy(hogRamp), RAMP, 3.5, 0), lineDs(xy(hogStep), STEP, 3.5, 1), lineDs(xy(hogPulse), PULSE, 3.5, 2),
  ],
  deco: {
    xTicks: timeTicksC, yTicks: hogTicksY,
    yLabels: labelsOf(hogTicksY, hogTickLabelsY).map((l, i) => ({ ...l, dy: i === 2 ? 12 : 0 })), yLabelX: 137,
    tickFont: fnt(30),
    texts: [{ t: 'Hog1 Reloc. [-]', x: 65, y: 1052, font: fnt(35), rot: ROT }],
  },
};

const specC3: Spec = {
  ox: 0, oy: 1186, w: 650, h: 376, box: [144, 1192, 604, 1473], x: cX, y: [35.14, 115.4],
  datasets: [
    ...bandDs(tsRamp, 'rgba(255,110,60,0.38)', 10), ...bandDs(tsStep, 'rgba(255,190,40,0.4)', 10), ...bandDs(tsPulse, 'rgba(30,150,40,0.38)', 10),
    lineDs(xy(tsRamp), RAMP, 3.5, 0), lineDs(xy(tsStep), STEP, 3.5, 1), lineDs(xy(tsPulse), PULSE, 3.5, 2),
  ],
  deco: {
    xTicks: timeTicksC, yTicks: tsTicksY,
    xLabels: labelsOf(timeTicksC, timeTickLabelsC), xLabelY: 1498,
    yLabels: labelsOf(tsTicksY, tsTickLabelsY), yLabelX: 137,
    tickFont: fnt(30),
    texts: [
      { t: 'TS Intensity [-]', x: 65, y: 1335, font: fnt(35), rot: ROT },
      { t: 'Time [min]', x: 368, y: 1539, font: fnt(35) },
    ],
  },
};

const specD: Spec = {
  ox: 600, oy: 560, w: 440, h: 430, box: [692, 638, 1034, 911], x: [0, 15], y: [0, 1],
  datasets: [
    lineDs(xy(startCdfRamp), RAMP, 4, 0), lineDs(xy(startCdfStep), STEP, 4, 1), lineDs(xy(startCdfPulse), PULSE, 4, 2),
  ],
  deco: {
    xTicks: dTicksX, yTicks: deTicksY,
    xLabels: labelsOf(dTicksX, dTickLabelsX).map((l, i) => ({ ...l, dx: i === 3 ? -19 : 0 })), xLabelY: 935,
    yLabels: labelsOf(deTicksY, deTickLabelsY), yLabelX: 684,
    tickFont: fnt(29),
    keys: [
      { x1: 706, x2: 723, y: 656, color: RAMP, w: 4 },
      { x1: 706, x2: 723, y: 690, color: STEP, w: 4 },
      { x1: 706, x2: 723, y: 724, color: PULSE, w: 4 },
    ],
    texts: [
      { t: regimeLabels[0], x: 736, y: 656, font: fnt(28), align: 'left' },
      { t: regimeLabels[1], x: 736, y: 690, font: fnt(28), align: 'left' },
      { t: regimeLabels[2], x: 736, y: 724, font: fnt(28), align: 'left' },
      { t: 'CDF Start Time', x: 853, y: 612, font: fnt(31) },
      { t: 'Time [min]', x: 867, y: 963, font: fnt(32) },
    ],
  },
};

const specE: Spec = {
  ox: 1036, oy: 560, w: 376, h: 430, box: [1040, 638, 1382, 911], x: [0, 35], y: [0, 1],
  datasets: [
    lineDs(xy(endCdfRamp), RAMP, 4, 0), lineDs(xy(endCdfStep), STEP, 4, 1), lineDs(xy(endCdfPulse), PULSE, 4, 2),
  ],
  deco: {
    xTicks: eTicksX, yTicks: deTicksY,
    xLabels: labelsOf(eTicksX, eTickLabelsX).map((l, i) => ({ ...l, dx: i === 0 ? 9 : 0 })), xLabelY: 935,
    tickFont: fnt(29),
    texts: [
      { t: '1- CDF End Time', x: 1204, y: 612, font: fnt(31) },
      { t: 'Time [min]', x: 1226, y: 963, font: fnt(32) },
    ],
  },
};

const specF: Spec = {
  ox: 650, oy: 985, w: 762, h: 577, box: [801, 1055, 1373, 1476], x: [0, 35.03], y: [0, 35.08],
  datasets: [
    lineDs(xy(diagonal), '#000', 3, 5, { borderDash: [3, 9.4] }),
    lineDs(vSeg(cutoffX, 0, 35.08), '#000', 2, 5, { borderDash: [16, 4, 3, 4] }),
    dotsDs(adaptPulse, 0, PULSE, 8.5, 3, { clip: false }),
    dotsDs(adaptStep, 0, STEP, 8.5, 2, { clip: false }),
    dotsDs(adaptRamp, 0, RAMP, 8.5, 1, { clip: false }),
    {
      data: censoredRampY.map((y) => ({ x: censoredX, y })), showLine: false, pointRadius: 7,
      pointBackgroundColor: '#fff', pointBorderColor: RAMP, pointBorderWidth: 2.6, order: 0, clip: false,
    },
  ],
  deco: {
    xTicks: fTicks, yTicks: fTicks, right: false,
    xLabels: labelsOf(fTicks, fTickLabels), xLabelY: 1498,
    yLabels: labelsOf(fTicks, fTickLabels), yLabelX: 793,
    tickFont: fnt(31),
    dots: [
      { x: 823, y: 1031, r: 7.5, color: RAMP },
      { x: 935, y: 1031, r: 7.5, color: STEP },
      { x: 1033, y: 1034, r: 7.5, color: PULSE },
    ],
    texts: [
      { t: regimeLabels[0], x: 836, y: 1034, font: fnt(27), align: 'left' },
      { t: regimeLabels[1], x: 946, y: 1034, font: fnt(27), align: 'left' },
      { t: regimeLabels[2], x: 1046, y: 1036, font: fnt(27), align: 'left' },
      { t: 'PP7 End Time  [min]', x: 733, y: 1268, font: fnt(35), rot: ROT },
      { t: 'Hog1 Adaptation Time  [min]', x: 1093, y: 1539, font: fnt(35) },
    ],
  },
};

const specs = [specA, specB, specC1, specC2, specC3, specD, specE, specF];
const panelLetters = [
  { t: 'a', x: 7, y: 38 }, { t: 'b', x: 679, y: 38 }, { t: 'c', x: 9, y: 605 },
  { t: 'd', x: 679, y: 606 }, { t: 'e', x: 1027, y: 605 }, { t: 'f', x: 685, y: 1017 },
];

function ChartCanvas({ spec }: { spec: Spec }) {
  const ref = useRef<HTMLCanvasElement | null>(null);
  useEffect(() => {
    const chart = new Chart(ref.current as HTMLCanvasElement, build(spec) as any);
    return () => chart.destroy();
  }, [spec]);
  return (
    <canvas
      ref={ref}
      width={spec.w}
      height={spec.h}
      style={{ position: 'absolute', left: spec.ox, top: spec.oy, width: spec.w, height: spec.h }}
    />
  );
}

export default function App() {
  return (
    <div style={{ position: 'absolute', left: 0, top: 0, width: 1412, height: 1562, background: '#fff', overflow: 'hidden', fontFamily: FONT }}>
      <div style={{ position: 'absolute', left: 432, top: 12 - 0.85 * 21.4, fontSize: 21.4, lineHeight: 1, whiteSpace: 'nowrap', color: '#000' }}>
        available under a<span style={{ color: '#0000ff' }}>CC-BY-NC-ND 4.0 International license</span>.
      </div>
      {specs.map((s, i) => (
        <ChartCanvas key={i} spec={s} />
      ))}
      {panelLetters.map((p) => (
        <div key={p.t} style={{ position: 'absolute', left: p.x, top: p.y - 0.85 * 46, fontSize: 46, lineHeight: 1, color: '#000' }}>
          {p.t}
        </div>
      ))}
    </div>
  );
}
